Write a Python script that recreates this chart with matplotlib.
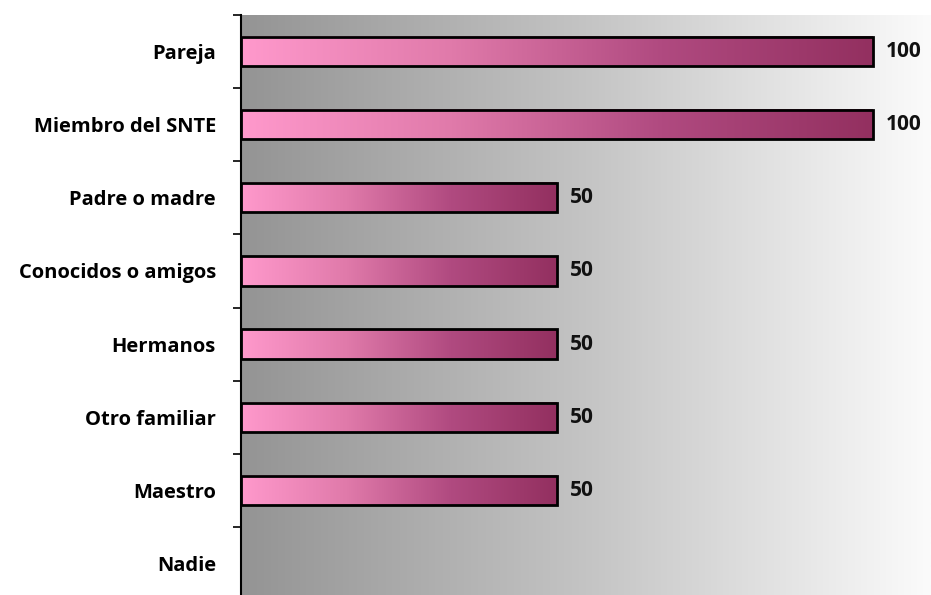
import numpy as np
import matplotlib.pyplot as plt
from matplotlib.colors import LinearSegmentedColormap

categorias = ["Pareja", "Miembro del SNTE", "Padre o madre", "Conocidos o amigos",
              "Hermanos", "Otro familiar", "Maestro", "Nadie"]
valores = [100, 100, 50, 50, 50, 50, 50, 0]

fig = plt.figure(figsize=(9.31, 5.95), dpi=100)
ax = fig.add_axes([241 / 931, -5 / 595, 1 - 241 / 931, 585 / 595])

xmax = 109.2
n = len(categorias)

# fondo degradado gris -> blanco
fondo = LinearSegmentedColormap.from_list("fondo", ["#949494", "#c4c4c4", "#fbfbfb"])
grad = np.linspace(0, 1, 256).reshape(1, -1)
ax.imshow(grad, cmap=fondo, aspect="auto", extent=[0, xmax, n - 0.5, -0.5], zorder=0)

# barras con degradado rosa -> guinda
barra = LinearSegmentedColormap.from_list("barra", ["#ff99cc", "#e07aaa", "#b04a80", "#933060"])
alto = 0.4
pos = [i for i, v in enumerate(valores) if v > 0]
for i in pos:
    v = valores[i]
    ax.imshow(grad, cmap=barra, aspect="auto",
              extent=[0, v, i + alto / 2, i - alto / 2], zorder=2)
    ax.text(v + 2.0, i, str(v), va="center", ha="left", fontsize=15,
            fontweight="bold", family="Open Sans", color="#111111")

ax.barh(pos, [valores[i] for i in pos], height=alto, fill=False,
        edgecolor="black", linewidth=2, zorder=3)

ax.set_xlim(0, xmax)
ax.set_ylim(n - 0.5, -0.5)

ax.set_yticks(range(n))
ax.set_yticklabels(categorias, fontsize=14.5, fontweight="bold", family="Open Sans")
ax.tick_params(axis="y", which="major", length=0, pad=18)
ax.set_yticks(np.arange(-0.5, n, 1), minor=True)
ax.tick_params(axis="y", which="minor", length=6, width=1.2, direction="out")
ax.set_xticks([])

for s in ["top", "right", "bottom"]:
    ax.spines[s].set_visible(False)
ax.spines["left"].set_linewidth(1.5)

fig.savefig("out.png", dpi=100)
